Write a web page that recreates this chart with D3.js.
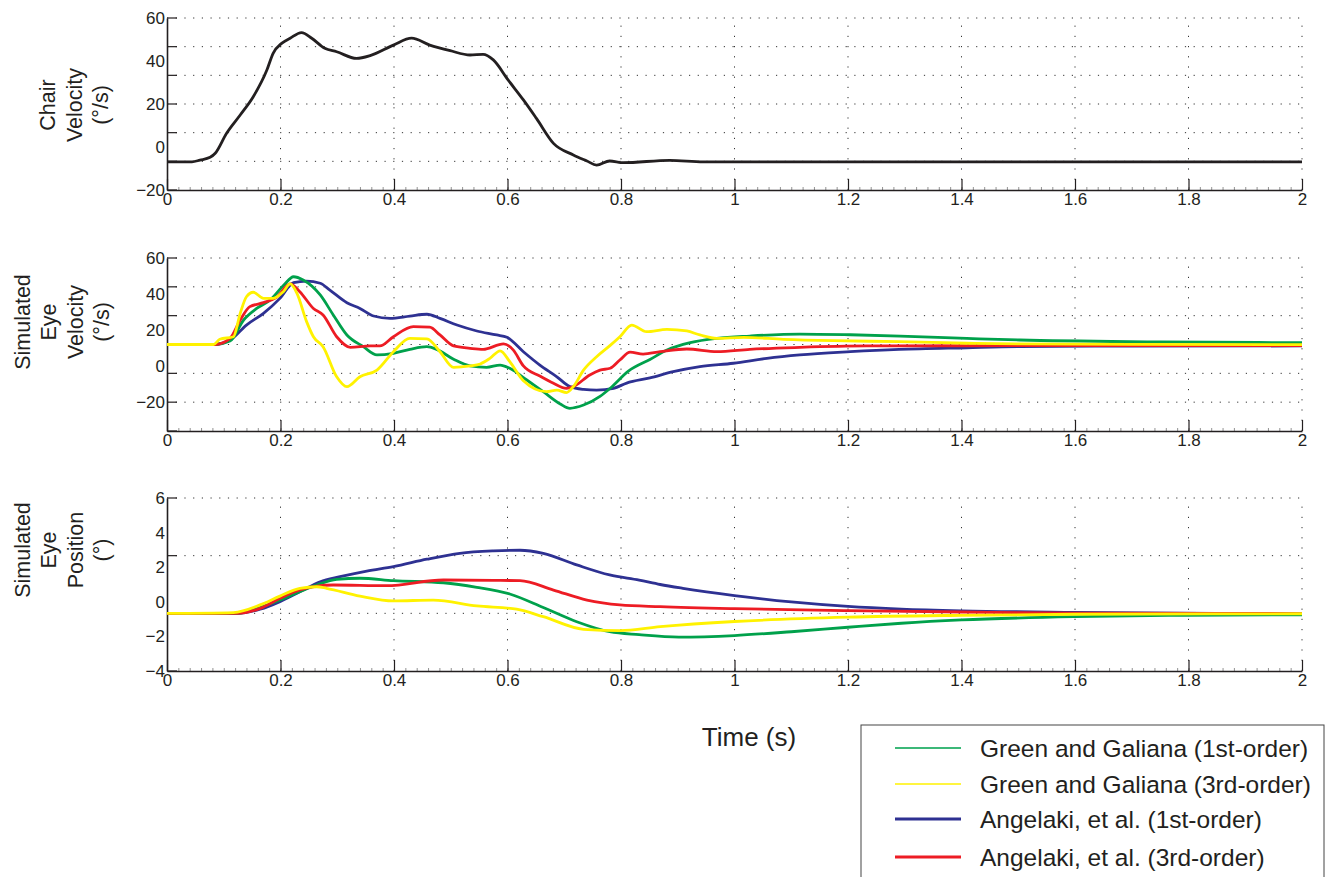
<!DOCTYPE html>
<html>
<head>
<meta charset="utf-8">
<script src="https://cdn.jsdelivr.net/npm/d3@7"></script>
<style>
body { margin: 0; background: #fff; }
text { font-family: "Liberation Sans", Arial, Helvetica, sans-serif; fill: #231f20; }
</style>
</head>
<body>
<div class="chart"></div>
<script>
// tiempo (s) en el eje x
var xTicks = d3.range(11).map(function(i) { return i / 5; });
var xMinor = d3.range(101).map(function(i) { return i / 50; });

// etiquetas de los ejes y
var chairYLabels = [-20, 0, 20, 40, 60];
var eyeVelYLabels = [-20, 0, 20, 40, 60];
var eyePosYLabels = [-4, -2, 0, 2, 4, 6];

var seriesNames = ["Green and Galiana (1st-order)", "Green and Galiana (3rd-order)",
                   "Angelaki, et al. (1st-order)", "Angelaki, et al. (3rd-order)"];

// velocidad de la silla [t, °/s]
var chairVel = [[0,-6.9],[0.044,-6.9],[0.058,-6.1],[0.076,-4.8],[0.085,-2.9],[0.105,6.4],[0.129,14.9],
  [0.152,23.4],[0.176,35.8],[0.187,43.6],[0.202,48.2],[0.217,50.6],[0.237,53.2],[0.255,50.6],[0.278,45.9],
  [0.299,44.3],[0.334,41.2],[0.358,42.5],[0.399,47.4],[0.431,50.6],[0.463,47.4],[0.499,44.8],[0.534,42.8],
  [0.557,43.1],[0.575,40.5],[0.601,31.2],[0.628,21.9],[0.651,13.3],[0.681,1.7],[0.716,-3.7],[0.740,-6.5],
  [0.757,-8.4],[0.780,-6.5],[0.804,-7.3],[0.886,-6.2],[0.945,-6.9],[1.2,-6.9],[2,-6.9]];

// velocidad del ojo simulada
var gg1Vel = [[0,12],[0.085,12],[0.111,13.9],[0.135,25.6],[0.158,32],[0.182,36.7],[0.206,45],[0.223,49.6],
  [0.240,47.8],[0.270,39.5],[0.293,28.4],[0.317,17.3],[0.346,10.8],[0.370,6.2],[0.399,7.1],[0.428,9.3],
  [0.458,10.8],[0.475,9.3],[0.505,3.8],[0.534,0.1],[0.563,-0.7],[0.587,0.6],[0.604,-1.2],[0.634,-7.7],
  [0.663,-14.2],[0.693,-21],[0.710,-23.4],[0.734,-21.6],[0.763,-16.8],[0.781,-12.3],[0.813,-2.8],
  [0.851,3.7],[0.881,8.9],[0.922,13],[0.969,15.4],[1.027,16.7],[1.115,17.8],[1.204,17.4],[1.292,16.7],
  [1.409,15.4],[1.503,14.5],[1.75,13.5],[2,13]];
var gg3Vel = [[0,12],[0.082,12],[0.093,14.9],[0.117,16.3],[0.129,29.3],[0.140,38.5],[0.152,41],[0.170,37.6],
  [0.187,37.6],[0.205,41.3],[0.217,45.6],[0.229,40.4],[0.246,24.7],[0.258,16.3],[0.275,10.8],[0.299,-5.9],
  [0.317,-11.4],[0.340,-5.9],[0.370,-2.2],[0.399,8],[0.428,15.4],[0.458,15.1],[0.481,8],[0.505,-0.7],
  [0.534,0.1],[0.552,1.2],[0.569,4.3],[0.587,8.5],[0.604,2.5],[0.628,-8.1],[0.669,-14.2],[0.687,-13.3],
  [0.704,-14.7],[0.716,-11.4],[0.734,-2.2],[0.757,5.2],[0.781,11.5],[0.798,16.3],[0.819,22.8],[0.845,19.1],
  [0.881,20.4],[0.916,19.5],[0.939,17.3],[0.969,15.4],[1.016,16],[1.086,14.9],[1.174,14.1],[1.29,13.6],
  [1.409,12.7],[1.503,12.3],[2,11.9]];
var ang1Vel = [[0,12],[0.082,12],[0.111,14.5],[0.140,22.8],[0.170,29.3],[0.199,37.6],[0.223,46.3],[0.246,47.2],
  [0.270,46],[0.287,42.2],[0.317,35.2],[0.340,32],[0.364,27.8],[0.393,26.5],[0.428,27.8],[0.458,28.8],
  [0.481,26.5],[0.511,22.8],[0.546,19.5],[0.581,17.3],[0.599,16],[0.628,8],[0.657,0.6],[0.687,-5.9],
  [0.710,-11.4],[0.734,-12.9],[0.757,-13.3],[0.787,-12.3],[0.81,-9.4],[0.851,-6.5],[0.892,-3.1],
  [0.939,-0.3],[0.998,1.6],[1.057,4.3],[1.115,6.2],[1.204,8],[1.29,9.3],[1.409,10.2],[1.503,10.8],
  [1.7,11.1],[2,11.2]];
var ang3Vel = [[0,12],[0.085,12],[0.111,15.4],[0.129,25.6],[0.146,33],[0.170,35.2],[0.193,38.2],[0.217,45.6],
  [0.234,41.3],[0.258,32],[0.275,28.4],[0.299,16.3],[0.323,10.4],[0.358,11.2],[0.375,11.2],[0.399,16.3],
  [0.434,21.9],[0.463,21.6],[0.481,17.3],[0.505,11.2],[0.534,9.9],[0.557,9.3],[0.593,12.3],[0.610,9],
  [0.628,0.1],[0.657,-5.5],[0.681,-9.5],[0.704,-12.3],[0.716,-11.4],[0.745,-4.9],[0.763,-2.2],[0.781,-1.2],
  [0.798,3.4],[0.816,7.8],[0.839,6.7],[0.869,8],[0.916,9.5],[0.969,8],[1.027,9.3],[1.115,10.4],
  [1.233,11.2],[1.409,11.3],[2,11.4]];

// posición del ojo simulada
var gg1Pos = [[0,-0.67],[0.123,-0.67],[0.164,-0.33],[0.199,0.1],[0.234,0.58],[0.264,0.97],[0.299,1.3],
  [0.34,1.36],[0.399,1.22],[0.487,1.1],[0.546,0.84],[0.604,0.45],[0.663,-0.33],[0.722,-1.15],[0.78,-1.73],
  [0.832,-1.9],[0.902,-2.04],[1.0,-1.95],[1.1,-1.73],[1.2,-1.47],[1.294,-1.24],[1.4,-1.05],[1.6,-0.86],
  [1.79,-0.78],[2,-0.75]];
var gg3Pos = [[0,-0.67],[0.117,-0.62],[0.164,-0.18],[0.199,0.33],[0.234,0.78],[0.264,0.87],[0.281,0.78],
  [0.34,0.33],[0.399,0.05],[0.469,0.1],[0.546,-0.24],[0.616,-0.43],[0.663,-0.86],[0.734,-1.59],[0.798,-1.67],
  [0.869,-1.44],[1.0,-1.14],[1.2,-0.89],[1.4,-0.78],[1.6,-0.72],[2,-0.69]];
var ang1Pos = [[0,-0.67],[0.123,-0.67],[0.164,-0.43],[0.199,0.01],[0.234,0.58],[0.27,1.16],[0.305,1.45],
  [0.352,1.78],[0.399,2.03],[0.458,2.46],[0.516,2.8],[0.575,2.94],[0.622,2.98],[0.663,2.8],[0.722,2.13],
  [0.78,1.55],[0.832,1.25],[0.869,1.0],[0.909,0.78],[1.0,0.36],[1.1,-0.01],[1.2,-0.27],[1.294,-0.42],
  [1.4,-0.52],[1.6,-0.61],[2,-0.69]];
var ang3Pos = [[0,-0.67],[0.123,-0.67],[0.164,-0.38],[0.199,0.2],[0.234,0.68],[0.264,0.91],[0.293,0.97],
  [0.387,0.93],[0.487,1.26],[0.575,1.24],[0.622,1.22],[0.681,0.68],[0.74,0.1],[0.798,-0.18],[0.869,-0.28],
  [1.0,-0.4],[1.2,-0.51],[1.4,-0.59],[1.6,-0.65],[2,-0.68]];

var colGG1 = "#00a14b", colGG3 = "#fff200", colA1 = "#2e3192", colA3 = "#ed1c24";

var svg = d3.select(".chart").append("svg")
    .attr("width", 1325)
    .attr("height", 877);

var x = d3.scaleLinear().domain([0, 2]).range([167, 1302]);

var panels = [
  { y: d3.scaleLinear().domain([-20, 60]).range([190, 18]),
    grid: d3.range(7).map(function(i) { return -20 + i * 80 / 6; }),
    labels: chairYLabels,
    title: ["Chair", "Velocity", "(°/s)"], titleX: [47.5, 74, 100.5], titleY: 105,
    series: [{d: chairVel, c: "#231f20"}] },
  { y: d3.scaleLinear().domain([-36, 60]).range([431, 258]),
    grid: d3.range(7).map(function(i) { return -36 + i * 16; }),
    labels: eyeVelYLabels,
    title: ["Simulated", "Eye", "Velocity", "(°/s)"], titleX: [22, 48.5, 75, 101.5], titleY: 322,
    series: [{d: ang1Vel, c: colA1}, {d: gg1Vel, c: colGG1}, {d: ang3Vel, c: colA3}, {d: gg3Vel, c: colGG3}] },
  { y: d3.scaleLinear().domain([-4, 6]).range([671, 498]),
    grid: d3.range(4).map(function(i) { return -4 + i * 10 / 3; }),
    labels: eyePosYLabels,
    title: ["Simulated", "Eye", "Position", "(°)"], titleX: [22, 48.5, 75, 101.5], titleY: 550,
    series: [{d: ang1Pos, c: colA1}, {d: gg1Pos, c: colGG1}, {d: ang3Pos, c: colA3}, {d: gg3Pos, c: colGG3}] }
];

panels.forEach(function(p) {
  var g = svg.append("g");
  var y0 = p.y.range()[0], y1 = p.y.range()[1];

  // rejilla punteada
  g.selectAll(".hgrid").data(p.grid.slice(1)).enter().append("line")
    .attr("x1", x(0)).attr("x2", x(2))
    .attr("y1", function(d) { return p.y(d); }).attr("y2", function(d) { return p.y(d); })
    .attr("stroke", "#333").attr("stroke-width", 1).attr("stroke-dasharray", "1.2,7.5");
  g.selectAll(".vgrid").data(xTicks.slice(1)).enter().append("line")
    .attr("x1", function(d) { return x(d); }).attr("x2", function(d) { return x(d); })
    .attr("y1", y0).attr("y2", y1)
    .attr("stroke", "#333").attr("stroke-width", 1).attr("stroke-dasharray", "1.2,9");

  // marcas del eje y en la rejilla
  g.selectAll(".ytick").data(p.grid).enter().append("line")
    .attr("x1", x(0)).attr("x2", x(0) + 10)
    .attr("y1", function(d) { return p.y(d); }).attr("y2", function(d) { return p.y(d); })
    .attr("stroke", "#231f20").attr("stroke-width", 1.2);

  // eje x: marcas menores y mayores
  g.append("g").attr("transform", "translate(0," + y0 + ")")
    .call(d3.axisBottom(x).tickValues(xMinor).tickSize(-3).tickFormat(""))
    .call(function(a) { a.select(".domain").remove(); a.selectAll("line").attr("stroke", "#777").attr("stroke-width", 0.8); });
  g.append("g").attr("transform", "translate(0," + y0 + ")")
    .call(d3.axisBottom(x).tickValues(xTicks).tickSizeInner(-11).tickSizeOuter(0).tickPadding(3)
      .tickFormat(function(d) { return String(+d.toFixed(1)); }))
    .call(function(a) {
      a.select(".domain").attr("stroke", "#231f20").attr("stroke-width", 1.6);
      a.selectAll(".tick line").attr("stroke", "#231f20").attr("stroke-width", 1.2);
      a.selectAll("text").attr("font-size", 17).attr("font-family", null).attr("fill", "#231f20");
    });

  // eje y
  g.append("g").attr("transform", "translate(" + x(0) + ",0)")
    .call(d3.axisLeft(p.y).tickValues(p.labels).tickSize(0).tickPadding(2).tickSizeOuter(0))
    .call(function(a) {
      a.select(".domain").attr("stroke", "#231f20").attr("stroke-width", 1.6);
      a.selectAll("text").attr("font-size", 17).attr("font-family", null).attr("fill", "#231f20");
    });

  // título del eje y
  p.title.forEach(function(t, i) {
    g.append("text")
      .attr("transform", "translate(" + p.titleX[i] + "," + p.titleY + ") rotate(-90)")
      .attr("text-anchor", "middle").attr("dy", "0.35em")
      .attr("font-size", 21.5).text(t);
  });

  var line = d3.line()
    .x(function(d) { return x(d[0]); })
    .y(function(d) { return p.y(d[1]); })
    .curve(d3.curveMonotoneX);

  p.series.forEach(function(s) {
    g.append("path").datum(s.d)
      .attr("d", line)
      .attr("fill", "none")
      .attr("stroke", s.c)
      .attr("stroke-width", 2.8)
      .attr("stroke-linejoin", "round");
  });
});

svg.append("text").attr("x", 749).attr("y", 737).attr("dy", "0.35em")
  .attr("text-anchor", "middle").attr("font-size", 26).text("Time (s)");

// leyenda
var legend = svg.append("g");
legend.append("rect").attr("x", 861).attr("y", 725).attr("width", 463).attr("height", 200)
  .attr("fill", "none").attr("stroke", "#444").attr("stroke-width", 1);
var legColors = ["#3cb878", "#fff200", colA1, colA3];
var legWidths = [2, 1.5, 3, 3];
var legY = [748, 784, 819, 857];
seriesNames.forEach(function(n, i) {
  legend.append("line").attr("x1", 895).attr("x2", 961)
    .attr("y1", legY[i]).attr("y2", legY[i])
    .attr("stroke", legColors[i]).attr("stroke-width", legWidths[i]);
  legend.append("text").attr("x", 980).attr("y", legY[i]).attr("dy", "0.35em")
    .attr("font-size", 24.5).text(n);
});
</script>
</body>
</html>
